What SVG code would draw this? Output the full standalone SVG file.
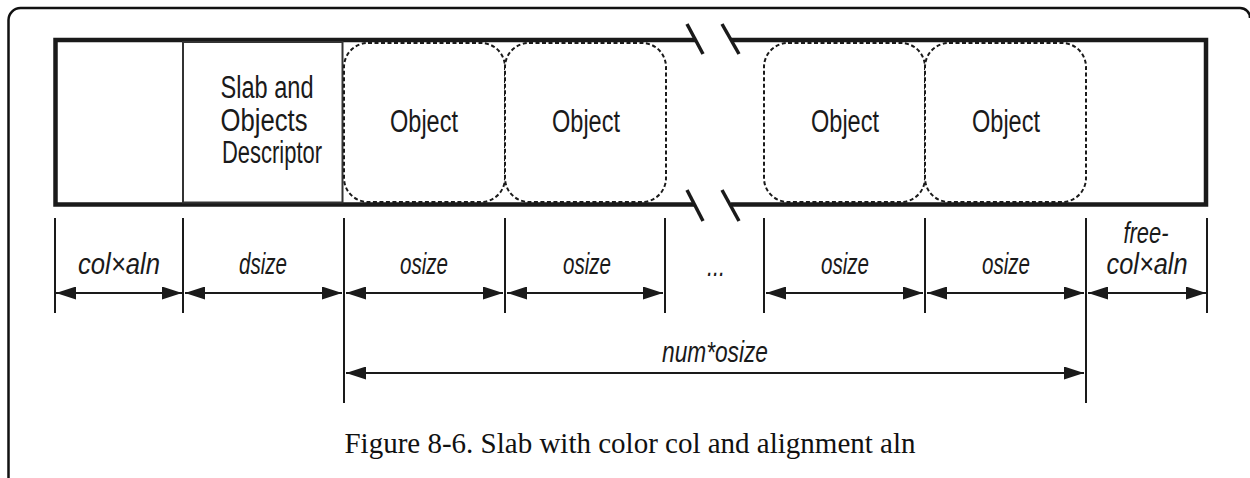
<svg xmlns="http://www.w3.org/2000/svg" width="1250" height="478" viewBox="0 0 1250 478">
<style>
.lbl{font-family:"Liberation Sans",Arial,sans-serif;fill:#1a1a1a;text-anchor:middle}
.box{font-size:31px}
.dim{font-size:30px;font-style:italic}
.obj{fill:#fff;stroke:#1a1a1a;stroke-width:2;stroke-dasharray:4 2.5}
.tick{stroke:#1a1a1a;stroke-width:2}
.arr{stroke:#1a1a1a;stroke-width:2;marker-start:url(#ah);marker-end:url(#ah)}
.cap{font-family:"Liberation Serif","Times New Roman",serif;font-size:29px;fill:#111;text-anchor:middle}
</style>
<defs>
<marker id="ah" markerUnits="userSpaceOnUse" markerWidth="20" markerHeight="13" refX="20" refY="6.5" orient="auto-start-reverse" viewBox="0 0 20 13">
<path d="M0,0 L20,6.5 L0,13 z" fill="#1a1a1a"/>
</marker>
</defs>
<rect width="1250" height="478" fill="#fff"/>
<path d="M8.5,478 V20 A12,12 0 0 1 20.5,8 H1240 A10,10 0 0 1 1250,18" fill="none" stroke="#111" stroke-width="2.5"/>

<g id="slab">
<rect x="55.5" y="40" width="1150.5" height="164.5" fill="#fff" stroke="none"/>
<path d="M695,40 H55.5 V204.5 H695 M731,40 H1206 V204.5 H731" fill="none" stroke="#1a1a1a" stroke-width="4.5"/>
</g>

<g id="descriptor">
<rect x="183" y="42" width="159.5" height="160.5" fill="#fff" stroke="#333" stroke-width="2"/>
<text class="lbl box" x="267" y="98" textLength="93" lengthAdjust="spacingAndGlyphs">Slab and</text>
<text class="lbl box" x="264" y="131" textLength="87" lengthAdjust="spacingAndGlyphs">Objects</text>
<text class="lbl box" x="272" y="163" textLength="100" lengthAdjust="spacingAndGlyphs">Descriptor</text>
</g>

<g id="object1">
<rect class="obj" x="344" y="43" width="161" height="159" rx="24"/>
<text class="lbl box" x="424" y="132" textLength="68" lengthAdjust="spacingAndGlyphs">Object</text>
</g>
<g id="object2">
<rect class="obj" x="505" y="43" width="161" height="159" rx="24"/>
<text class="lbl box" x="586" y="132" textLength="68" lengthAdjust="spacingAndGlyphs">Object</text>
</g>
<g id="object3">
<rect class="obj" x="764" y="43" width="161" height="159" rx="24"/>
<text class="lbl box" x="845" y="132" textLength="68" lengthAdjust="spacingAndGlyphs">Object</text>
</g>
<g id="object4">
<rect class="obj" x="925" y="43" width="161" height="159" rx="24"/>
<text class="lbl box" x="1006" y="132" textLength="68" lengthAdjust="spacingAndGlyphs">Object</text>
</g>

<g id="break" stroke="#1a1a1a" stroke-width="3.5">
<line x1="687" y1="24" x2="703" y2="54"/>
<line x1="722" y1="24" x2="739" y2="54"/>
<line x1="687" y1="190" x2="703" y2="221"/>
<line x1="722" y1="190" x2="739" y2="221"/>
</g>

<g id="connectors">
<line class="tick" x1="55" y1="218" x2="55" y2="313"/>
<line class="tick" x1="183" y1="218" x2="183" y2="313"/>
<line class="tick" x1="344" y1="218" x2="344" y2="403"/>
<line class="tick" x1="505" y1="218" x2="505" y2="313"/>
<line class="tick" x1="665" y1="218" x2="665" y2="313"/>
<line class="tick" x1="764" y1="218" x2="764" y2="313"/>
<line class="tick" x1="925" y1="218" x2="925" y2="313"/>
<line class="tick" x1="1086" y1="218" x2="1086" y2="403"/>
<line class="tick" x1="1207" y1="218" x2="1207" y2="313"/>
<line class="arr" x1="56" y1="293" x2="182" y2="293"/>
<line class="arr" x1="185" y1="293" x2="342" y2="293"/>
<line class="arr" x1="346" y1="293" x2="503" y2="293"/>
<line class="arr" x1="507" y1="293" x2="663" y2="293"/>
<line class="arr" x1="766" y1="293" x2="923" y2="293"/>
<line class="arr" x1="927" y1="293" x2="1084" y2="293"/>
<line class="arr" x1="1088" y1="293" x2="1206" y2="293"/>
<line class="arr" x1="346" y1="373" x2="1084" y2="373"/>
</g>

<g id="labels">
<text class="lbl dim" x="119" y="274" textLength="82" lengthAdjust="spacingAndGlyphs">col×aln</text>
<text class="lbl dim" x="263" y="274" textLength="48" lengthAdjust="spacingAndGlyphs">dsize</text>
<text class="lbl dim" x="424" y="274" textLength="48" lengthAdjust="spacingAndGlyphs">osize</text>
<text class="lbl dim" x="587" y="274" textLength="48" lengthAdjust="spacingAndGlyphs">osize</text>
<text class="lbl dim" x="716" y="276" textLength="18" lengthAdjust="spacingAndGlyphs">...</text>
<text class="lbl dim" x="845" y="274" textLength="48" lengthAdjust="spacingAndGlyphs">osize</text>
<text class="lbl dim" x="1006" y="274" textLength="48" lengthAdjust="spacingAndGlyphs">osize</text>
<text class="lbl dim" x="1146" y="243" textLength="45" lengthAdjust="spacingAndGlyphs">free-</text>
<text class="lbl dim" x="1147" y="274" textLength="81" lengthAdjust="spacingAndGlyphs">col×aln</text>
<text class="lbl dim" x="715" y="362" textLength="106" lengthAdjust="spacingAndGlyphs">num*osize</text>
</g>

<text class="cap" x="630" y="453">Figure 8-6. Slab with color col and alignment aln</text>
</svg>
